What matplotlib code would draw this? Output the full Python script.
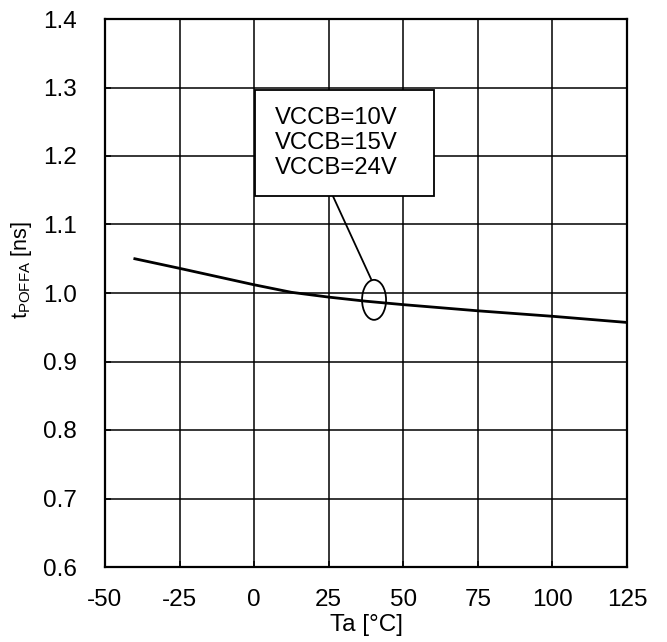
import matplotlib
matplotlib.use("Agg")
import matplotlib.pyplot as plt
from matplotlib.patches import Ellipse, Rectangle

temps = [-40, -25, -12.5, 0, 12.5, 25, 37.5, 50, 75, 100, 125]
t_poffa = [1.05, 1.036, 1.024, 1.012, 1.001, 0.994, 0.988, 0.983, 0.974, 0.966, 0.957]
legend_lines = ["VCCB=10V", "VCCB=15V", "VCCB=24V"]
x_ticks = [-50, -25, 0, 25, 50, 75, 100, 125]
y_ticks = [0.6, 0.7, 0.8, 0.9, 1.0, 1.1, 1.2, 1.3, 1.4]

plt.rcParams['font.family'] = ['Liberation Sans', 'DejaVu Sans']
plt.rcParams['mathtext.fontset'] = 'custom'
plt.rcParams['mathtext.rm'] = 'Liberation Sans'

fig = plt.figure(figsize=(6.67, 6.42), dpi=100)
ax = fig.add_axes([105/667, 1-567/642, 522/667, 548/642])

ax.plot(temps, t_poffa, color='black', lw=2.0, zorder=3, solid_joinstyle='round')

ax.set_xlim(-50, 125)
ax.set_ylim(0.6, 1.4)
ax.set_xticks(x_ticks)
ax.set_xticklabels([str(v) for v in x_ticks])
ax.set_yticks(y_ticks)
ax.set_yticklabels([f"{v:.1f}" for v in y_ticks])
ax.grid(True, color='black', lw=1.1)
ax.set_axisbelow(True)
for s in ax.spines.values():
    s.set_linewidth(1.6)
ax.tick_params(direction='in', length=4, width=1.1, labelsize=17.5, colors='black')
ax.tick_params(axis='x', pad=16)
ax.tick_params(axis='y', pad=20)

ax.set_xlabel('Ta [°C]', fontsize=17.5, labelpad=2)
fig.text(22/667, 1-270/642, r'$\mathregular{t_{POFFA}}$ [ns]', fontsize=15.5,
         rotation=90, ha='center', va='center')

# annotation box
ax.add_patch(Rectangle((0.3, 1.1416), 60.0, 0.1548, facecolor='white',
                       edgecolor='black', lw=1.3, zorder=5))
ax.text(7.0, 1.219, "\n".join(legend_lines), fontsize=17.2, va='center',
        ha='left', linespacing=1.15, zorder=6)
ax.plot([26.4, 39.2], [1.1416, 1.0204], color='black', lw=1.3, zorder=4)
ax.add_patch(Ellipse((40.2, 0.990), 8.05, 0.0584, facecolor='none',
                     edgecolor='black', lw=1.3, zorder=4))

fig.savefig('out.png', dpi=100)
